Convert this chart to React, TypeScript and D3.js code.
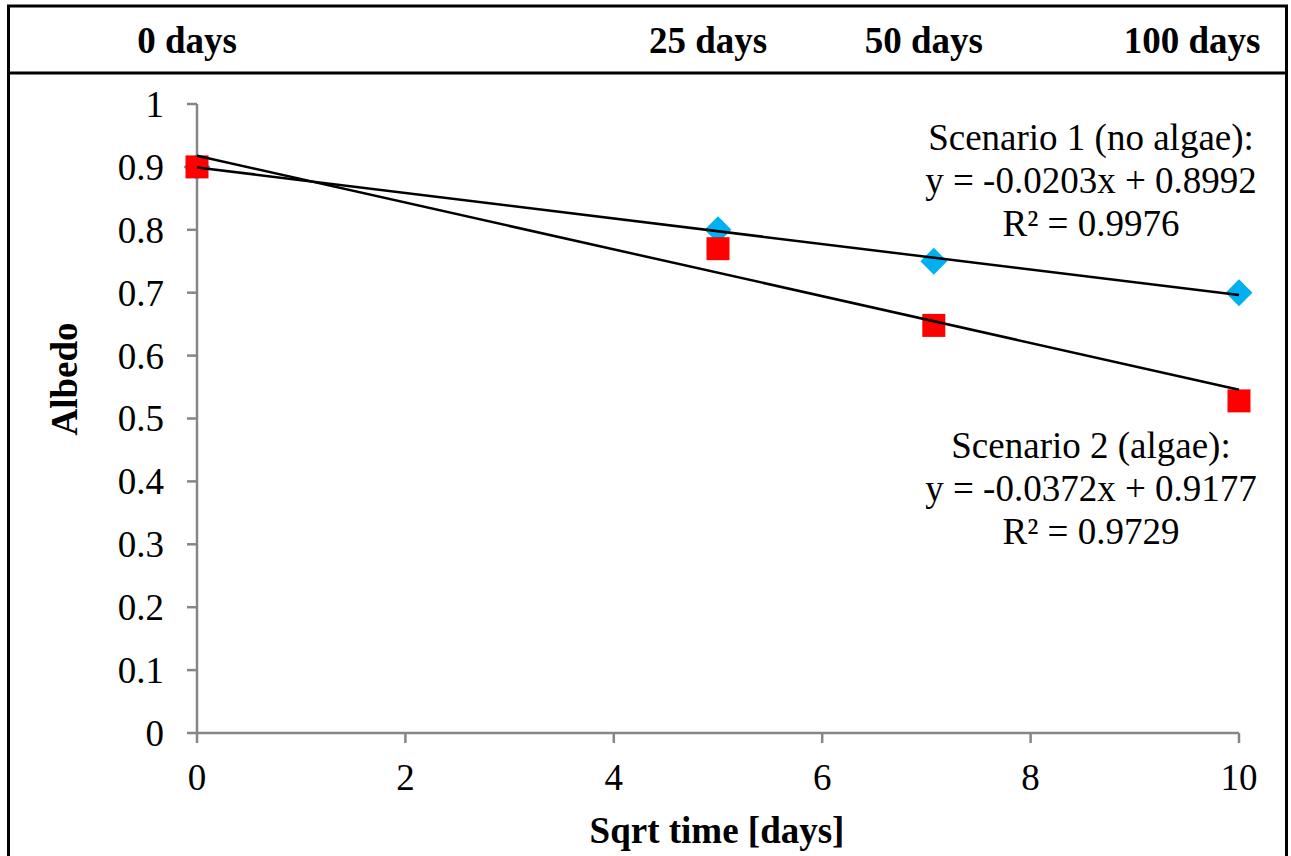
import React from "react";
import * as d3 from "d3";

const sqrtTime = [0, 5, 7.0711, 10];
const scenario1 = [0.9, 0.8, 0.75, 0.7];
const scenario2 = [0.9, 0.77, 0.648, 0.528];
const fit1 = { slope: -0.0203, intercept: 0.8992, r2: 0.9976 };
const fit2 = { slope: -0.0372, intercept: 0.9177, r2: 0.9729 };
const headerDays = [0, 25, 50, 100];
const xTicks = [0, 2, 4, 6, 8, 10];
const yTicks = [0, 0.1, 0.2, 0.3, 0.4, 0.5, 0.6, 0.7, 0.8, 0.9, 1];
const label1 = ["Scenario 1 (no algae):", "y = -0.0203x + 0.8992", "R\u00B2 = 0.9976"];
const label2 = ["Scenario 2 (algae):", "y = -0.0372x + 0.9177", "R\u00B2 = 0.9729"];

const W = 1291;
const H = 856;
const FONT = "'Liberation Serif', 'Times New Roman', serif";

export default function App() {
  const x = d3.scaleLinear().domain([0, 10]).range([197, 1239]);
  const y = d3.scaleLinear().domain([0, 1]).range([733, 104]);
  const axisColor = "#868686";

  const trend = (f: { slope: number; intercept: number }) =>
    d3.line<number>().x((d) => x(d)).y((d) => y(f.slope * d + f.intercept))([0, 10]) || "";

  const diamond = d3.symbol().type(d3.symbolSquare).size(19 * 19)();
  const square = d3.symbol().type(d3.symbolSquare).size(23 * 23)();

  return (
    <svg
      width={W}
      height={H}
      style={{ position: "absolute", left: 0, top: 0, background: "#fff" }}
      fontFamily={FONT}
    >
      <rect x={0} y={0} width={W} height={H} fill="#fff" />
      {/* frame */}
      <rect x={8.5} y={6} width={1278} height={900} fill="none" stroke="#000" strokeWidth={3} />
      <line x1={8.5} x2={1286.5} y1={73} y2={73} stroke="#000" strokeWidth={3} />

      {/* header */}
      {headerDays.map((d, i) => {
        const cx = Math.min(x(Math.sqrt(d)) - 10, 1192);
        return (
          <text
            key={i}
            x={cx}
            y={53}
            textAnchor="middle"
            fontWeight="bold"
            fontSize={37}
            fill="#000"
          >
            {d} days
          </text>
        );
      })}

      {/* axes */}
      <line x1={x(0)} x2={x(0)} y1={y(1)} y2={y(0)} stroke={axisColor} strokeWidth={2.5} />
      <line x1={x(0)} x2={x(10)} y1={y(0)} y2={y(0)} stroke={axisColor} strokeWidth={2.5} />
      {yTicks.map((t) => (
        <g key={"y" + t}>
          <line x1={x(0) - 10} x2={x(0)} y1={y(t)} y2={y(t)} stroke={axisColor} strokeWidth={2.5} />
          <text
            x={164}
            y={y(t)}
            dy="0.35em"
            textAnchor="end"
            fontSize={37}
            fill="#000"
          >
            {d3.format("~g")(t)}
          </text>
        </g>
      ))}
      {xTicks.map((t) => (
        <g key={"x" + t}>
          <line x1={x(t)} x2={x(t)} y1={y(0)} y2={y(0) + 10} stroke={axisColor} strokeWidth={2.5} />
          <text x={x(t)} y={790} textAnchor="middle" fontSize={37} fill="#000">
            {t}
          </text>
        </g>
      ))}

      {/* axis titles */}
      <text x={717} y={843} textAnchor="middle" fontWeight="bold" fontSize={37} fill="#000">
        Sqrt time [days]
      </text>
      <text
        transform={`translate(77, ${379}) rotate(-90)`}
        textAnchor="middle"
        fontWeight="bold"
        fontSize={37}
        fill="#000"
      >
        Albedo
      </text>

      {/* markers */}
      {sqrtTime.map((t, i) => (
        <path
          key={"s1" + i}
          d={diamond}
          transform={`translate(${x(t)},${y(scenario1[i])}) rotate(45)`}
          fill="#00B0F0"
        />
      ))}
      {sqrtTime.map((t, i) => (
        <path
          key={"s2" + i}
          d={square}
          transform={`translate(${x(t)},${y(scenario2[i])})`}
          fill="#FF0000"
        />
      ))}

      {/* trendlines */}
      <path d={trend(fit1)} stroke="#000" strokeWidth={2.5} fill="none" />
      <path d={trend(fit2)} stroke="#000" strokeWidth={2.5} fill="none" />

      {/* annotations */}
      {label1.map((s, i) => (
        <text key={"l1" + i} x={1091} y={150 + i * 43} textAnchor="middle" fontSize={37} fill="#000">
          {s}
        </text>
      ))}
      {label2.map((s, i) => (
        <text key={"l2" + i} x={1091} y={458 + i * 43} textAnchor="middle" fontSize={37} fill="#000">
          {s}
        </text>
      ))}
    </svg>
  );
}
